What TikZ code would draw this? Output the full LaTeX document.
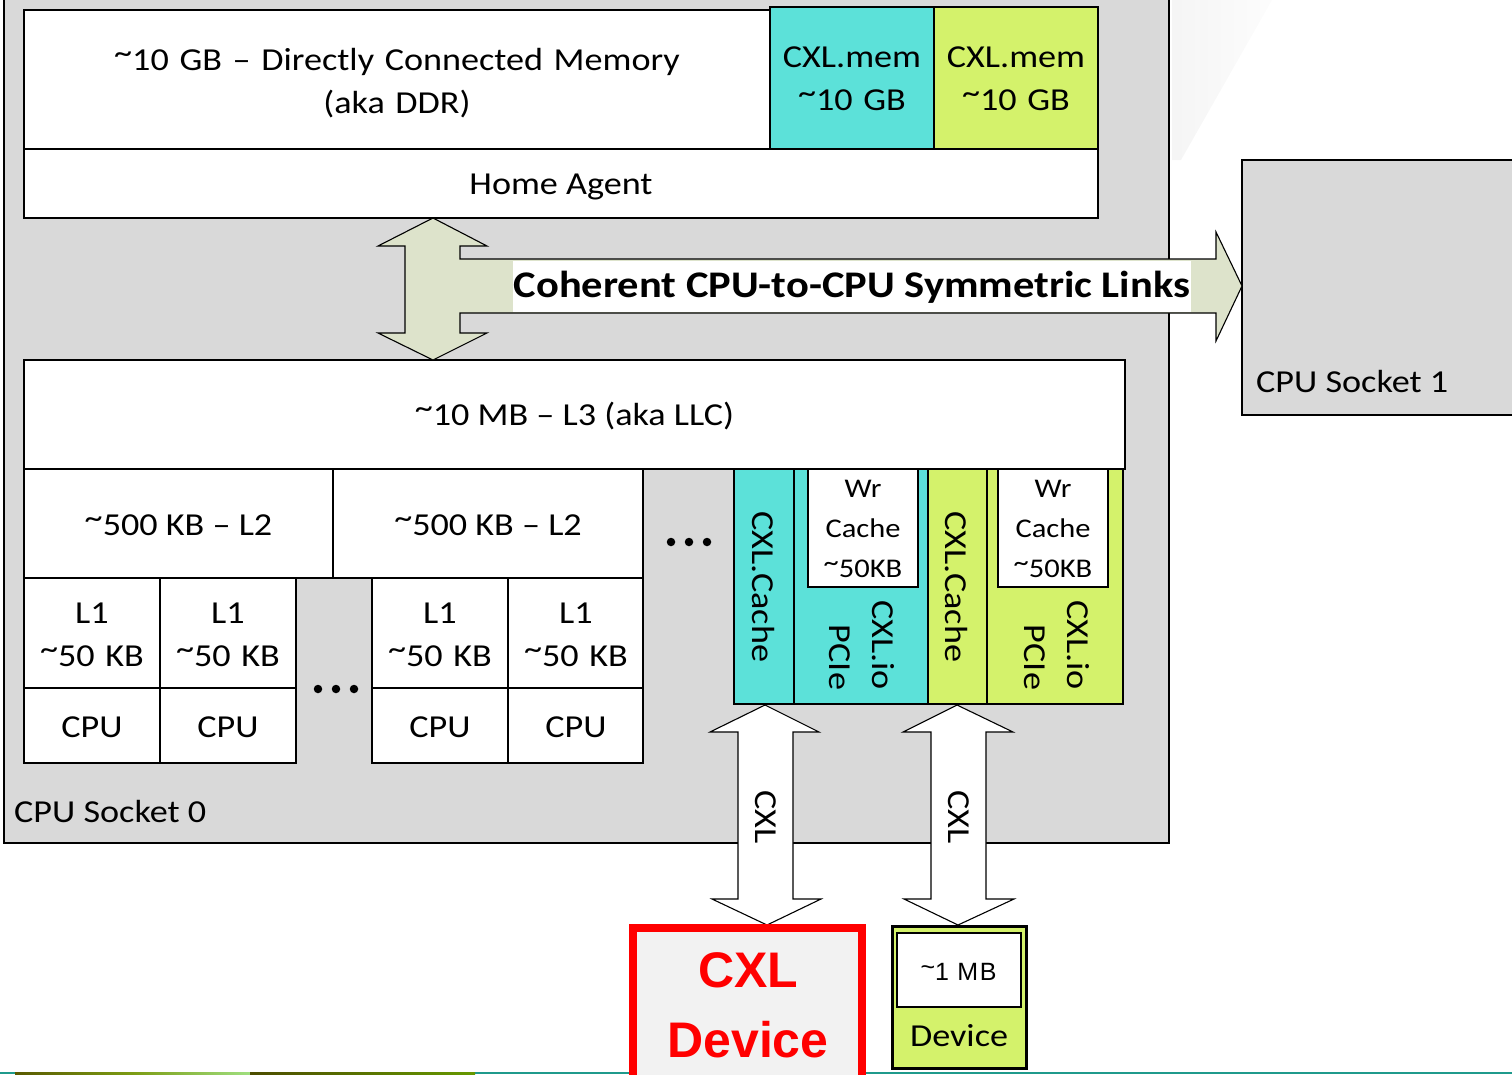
\documentclass[tikz,border=0pt]{standalone}
\usepackage{fontspec}
\setmainfont{Carlito}[FakeStretch=1.13]
\newfontfamily\arialf{Liberation Sans}
\usetikzlibrary{calc}
\definecolor{sockgray}{HTML}{D9D9D9}
\definecolor{cxlcyan}{HTML}{5CE1D9}
\definecolor{cxlgreen}{HTML}{D4F26B}
\definecolor{arrowfill}{HTML}{DDE3CB}
\definecolor{devgray}{HTML}{F2F2F2}
\definecolor{slideteal}{HTML}{1F9A8C}
\newcommand\tld{\raisebox{0.2em}{\textasciitilde}}
\newcommand\bx[6]{\node[box,#6,minimum width={#4pt-#2pt},minimum height={#5pt-#3pt}] (#1) at (#2,#3) {};}
\begin{document}
\begin{tikzpicture}[x=1pt,y=-1pt,
  box/.style={draw=black,line width=2.5pt,anchor=north west,inner sep=0pt,outer sep=0pt},
  lbl/.style={inner sep=0pt,font=\fontsize{32}{43}\selectfont},
  small/.style={inner sep=0pt,font=\fontsize{27}{40}\selectfont},
  blockarrow/.style={draw=black,line width=1.1pt,line join=miter},
  dot/.style={fill=black,circle,inner sep=0pt,minimum size=8.5pt}
]
\useasboundingbox (0,0) rectangle (1512,1074);
\clip (0,0) rectangle (1512,1074);
% slide decorations
\shade[left color=black!4,right color=black!1] (1172,0) -- (1272,0) -- (1181,160) -- (1172,160) -- cycle;
\fill[slideteal] (0,1072) rectangle (1512,1074);
\shade[left color=olive!70!black,right color=green!50!olive!50] (15,1072) rectangle (250,1074);
\shade[left color=olive!60!black,right color=olive!80!green] (250,1072) rectangle (475,1074);

% sockets
\node[box,fill=sockgray,minimum width=1165pt,minimum height=846pt] (sock0) at (4,-3) {};
\bx{sock1}{1242}{160}{1530}{415}{fill=sockgray}
\node[lbl,anchor=base west] (sock0l) at (14,822) {CPU Socket 0};
\node[lbl,anchor=base west] (sock1l) at (1256,392) {CPU Socket 1};

% memory & home agent
\bx{mem}{24}{10}{770}{149}{fill=white}
\bx{memA}{770}{7}{934}{149}{fill=cxlcyan}
\bx{memB}{934}{7}{1098}{149}{fill=cxlgreen}
\bx{ha}{24}{149}{1098}{218}{fill=white}
\node[lbl,anchor=base,text width=720pt,align=center] (memT) at (397,70) {\tld10 GB – Directly Connected Memory\\(aka DDR)};
\node[lbl,anchor=base,text width=160pt,align=center] (memAT) at (852,67) {CXL.mem\\\tld10 GB};
\node[lbl,anchor=base,text width=160pt,align=center] (memBT) at (1016,67) {CXL.mem\\\tld10 GB};
\node[lbl,anchor=base] (haT) at (561,194) {Home Agent};

% caches
\bx{lthree}{24}{360}{1125}{469}{fill=white}
\node[lbl,anchor=base] (lthreeT) at (574.5,425) {\tld10 MB – L3 (aka LLC)};
\bx{ltwoA}{24}{469}{333}{578}{fill=white}
\bx{ltwoB}{333}{469}{643}{578}{fill=white}
\node[lbl,anchor=base] (ltwoAT) at (178.5,535) {\tld500 KB – L2};
\node[lbl,anchor=base] (ltwoBT) at (488,535) {\tld500 KB – L2};
\bx{loneA}{24}{578}{160}{688}{fill=white}
\bx{loneB}{160}{578}{296}{688}{fill=white}
\bx{loneC}{372}{578}{508}{688}{fill=white}
\bx{loneD}{508}{578}{643}{688}{fill=white}
\bx{cpuA}{24}{688}{160}{763}{fill=white}
\bx{cpuB}{160}{688}{296}{763}{fill=white}
\bx{cpuC}{372}{688}{508}{763}{fill=white}
\bx{cpuD}{508}{688}{643}{763}{fill=white}
\foreach \n/\x in {A/92,B/228,C/440,D/576}{
  \node[lbl,anchor=base,text width=130pt,align=center] (lone\n T) at (\x,623) {L1\\\tld50 KB};
  \node[lbl,anchor=base] (cpu\n T) at (\x,737) {CPU};
}
\node[dot] (d1) at (318,689) {};
\node[dot] (d2) at (336,689) {};
\node[dot] (d3) at (354,689) {};
\node[dot] (d4) at (671,542) {};
\node[dot] (d5) at (689,542) {};
\node[dot] (d6) at (707,542) {};

% CXL ports
\bx{cacheA}{734}{469}{794}{704}{fill=cxlcyan}
\bx{ioA}{794}{469}{928}{704}{fill=cxlcyan}
\bx{wrA}{808}{469}{918}{587}{fill=white}
\bx{cacheB}{928}{469}{987}{704}{fill=cxlgreen}
\bx{ioB}{987}{469}{1123}{704}{fill=cxlgreen}
\bx{wrB}{998}{469}{1108}{587}{fill=white}
\node[lbl,rotate=-90] (cacheAT) at (763,587) {CXL.Cache};
\node[lbl,rotate=-90] (cacheBT) at (956,587) {CXL.Cache};
\node[small,anchor=base,text width=110pt,align=center] (wrAT) at (863,497) {Wr\\Cache\\\tld50KB};
\node[small,anchor=base,text width=110pt,align=center] (wrBT) at (1053,497) {Wr\\Cache\\\tld50KB};
\node[lbl,rotate=-90,anchor=base,text width=90pt,align=right] (ioAT) at (872,645) {CXL.io\\PCIe};
\node[lbl,rotate=-90,anchor=base,text width=90pt,align=right] (ioBT) at (1067,645) {CXL.io\\PCIe};

% coherent CPU-to-CPU link arrow
\draw[blockarrow,fill=arrowfill] (433,218) -- (487,246) -- (460,246) -- (460,259) -- (1216,259) -- (1216,232) -- (1242,286) -- (1216,341) -- (1216,313) -- (460,313) -- (460,333) -- (487,333) -- (433,360) -- (378,333) -- (405,333) -- (405,246) -- (378,246) -- cycle;
\node[fill=white,inner sep=0pt,minimum width=678pt,minimum height=51pt] (cohbg) at (852,286.5) {};
\node[inner sep=0pt,anchor=base,font=\fontsize{37.6}{40}\selectfont\bfseries] (coh) at (852,297) {Coherent CPU-to-CPU Symmetric Links};

% CXL links
\draw[blockarrow,fill=white] (765,705) -- (819,732) -- (793,732) -- (793,899) -- (821,899) -- (767,925) -- (712,899) -- (738,899) -- (738,732) -- (710,732) -- cycle;
\draw[blockarrow,fill=white] (957,705) -- (1013,732) -- (986,732) -- (986,899) -- (1014,899) -- (958,925) -- (904,899) -- (931,899) -- (931,732) -- (903,732) -- cycle;
\node[lbl,rotate=-90] (linkA) at (766,817) {CXL};
\node[lbl,rotate=-90] (linkB) at (959,817) {CXL};

% devices
\bx{cxldev}{633}{928}{862}{1090}{draw=red,line width=8pt,fill=devgray}
\node[inner sep=0pt,anchor=base,text width=230pt,align=center,text=red,font=\arialf\bfseries\fontsize{50}{70}\selectfont] (cxldevT) at (748,987) {CXL\\Device};
\bx{gdev}{892}{926}{1026}{1068}{fill=cxlgreen,line width=3pt}
\bx{gmem}{897}{933}{1021}{1007}{fill=white}
\node[inner sep=0pt,anchor=base,font=\arialf\fontsize{25}{30}\selectfont\addfontfeature{LetterSpace=6}] (gmemT) at (958.5,980) {\tld1 MB};
\node[lbl,anchor=base] (gdevT) at (959,1046) {Device};
\end{tikzpicture}
\end{document}
